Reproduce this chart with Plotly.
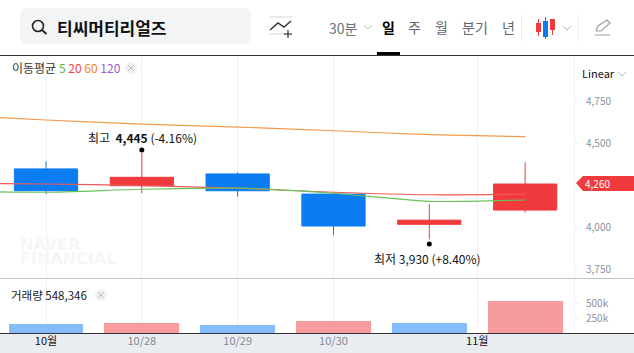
import plotly.graph_objects as go

W, H = 634, 353
FONT = "Noto Sans CJK KR, Noto Sans, sans-serif"

# ---- data ----
index = [0, 1, 2, 3, 4, 5]
opens = [4350, 4250, 4320, 4200, 4020, 4105]
highs = [4395, 4445, 4330, 4210, 4140, 4390]
lows = [4200, 4205, 4185, 3955, 3930, 4090]
closes = [4220, 4300, 4220, 4010, 4045, 4260]
volumes = [155000, 172000, 138000, 207000, 172000, 548346]
volume_up = [False, True, False, True, False, True]
ma_index = [-1, 0, 1, 2, 3, 4, 5]
ma5 = [4218, 4211, 4229, 4235, 4205, 4157, 4165]
ma20 = [4266, 4260, 4251, 4235, 4211, 4196, 4199]
ma60 = [4671, 4641, 4617, 4599, 4577, 4554, 4542]
extreme_x = [1, 4]
extreme_y = [4462, 3903]
price_ticks = [3750, 4000, 4500, 4750]
price_labels = ["3,750", "4,000", "4,500", "4,750"]
volume_ticks = [250000, 500000]
volume_labels = ["250k", "500k"]
date_ticks = [0, 1, 2, 3, 4.5]
date_labels = ["10월", "10/28", "10/29", "10/30", "11월"]
date_major = [True, False, False, False, True]
periods = ["일", "주", "월", "분기", "년"]

RED, BLUE = "#f03a3d", "#0b7cf2"
UP_BAR, DOWN_BAR = "#f69c9e", "#84bcfa"


def X(p):
    return p / W


def Y(p):
    return 1 - p / H


def path(d):
    """d: list of tokens, with pixel coordinates as (x, y) tuples."""
    out = []
    for t in d:
        out.append(f"{X(t[0]):.5f} {Y(t[1]):.5f}" if isinstance(t, tuple) else t)
    return " ".join(out)


shapes, notes = [], []


def rect(x0, y0, x1, y1, color, layer="above"):
    shapes.append(dict(type="rect", xref="paper", yref="paper", x0=X(x0), x1=X(x1),
                       y0=Y(y1), y1=Y(y0), fillcolor=color, line_width=0, layer=layer))


def line(points, color, width=1):
    d = []
    for i, p in enumerate(points):
        d += ["M" if i == 0 else "L", p]
    shapes.append(dict(type="path", xref="paper", yref="paper", path=path(d),
                       line=dict(color=color, width=width), layer="above"))


def circle(cx, cy, r, fill, edge=None, width=0):
    shapes.append(dict(type="circle", xref="paper", yref="paper", x0=X(cx - r), x1=X(cx + r),
                       y0=Y(cy + r), y1=Y(cy - r), fillcolor=fill,
                       line=dict(color=edge or fill, width=width), layer="above"))


def text(x, y, s, size=12, color="#333", anchor="left", family=FONT):
    notes.append(dict(xref="paper", yref="paper", x=X(x), y=Y(y), text=s, showarrow=False,
                      xanchor=anchor, yanchor="middle", align=anchor, borderpad=0,
                      font=dict(family=family, size=size, color=color)))


def chevron(x, y):
    line([(x - 4, y - 2), (x, y + 2), (x + 4, y - 2)], "#b4b8be", 1)


def close_button(x, y):
    circle(x, y, 6, "#f0f1f2")
    line([(x - 3, y - 3), (x + 3, y + 3)], "#b9bcc1", 1)
    line([(x - 3, y + 3), (x + 3, y - 3)], "#b9bcc1", 1)


# ---- panels and rules ----
rect(0, 333, W, H, "#e9ecf1", "below")
rect(0, 55, W, 56, "#333333")
rect(0, 278, W, 279, "#bcc4cc")
rect(0, 333, W, 334, "#333333")

# ---- header ----
shapes.append(dict(type="path", xref="paper", yref="paper", layer="below",
                   fillcolor="#f3f4f6", line_width=0,
                   path=path(["M", (28, 8), "L", (243, 8), "Q", (251, 8), (251, 16), "L", (251, 36),
                              "Q", (251, 44), (243, 44), "L", (28, 44), "Q", (20, 44), (20, 36),
                              "L", (20, 16), "Q", (20, 8), (28, 8), "Z"])))
circle(38, 26, 5.5, "rgba(0,0,0,0)", "#222", 1.6)
line([(42, 30), (46.5, 34)], "#222", 1.8)
text(56, 27, "<b>티씨머티리얼즈</b>", 17, "#111")
line([(269, 17), (292, 17)], "#d5d7da", 1)
line([(269, 34), (285, 34)], "#d5d7da", 1)
line([(270, 30), (278, 23), (284, 27), (291, 21)], "#333", 1.4)
line([(284, 34), (292, 34)], "#333", 1.2)
line([(288, 30), (288, 38)], "#333", 1.2)
text(328, 28, "30분", 14, "#6d737c")
chevron(368, 27)
period_x = [388.5, 414.5, 441, 474.5, 508]
for s, px in zip(periods, period_x):
    is_day = s == "일"
    text(px, 27, f"<b>{s}</b>" if is_day else s, 14, "#000" if is_day else "#5f666f", "center")
rect(377, 52, 400, 55, "#000000")
rect(521, 14, 522, 42, "#eceef0")
rect(578, 14, 579, 42, "#eceef0")
for x0, top, bot, wt, wb, c in [(536, 23, 32, 19, 36, RED), (543, 21, 37, 17, 39, BLUE), (550, 19, 30, 19, 35, RED)]:
    line([(x0 + 2.5, wt), (x0 + 2.5, wb)], c, 1)
    rect(x0, top, x0 + 5, bot, c)
chevron(567, 28)
line([(596, 31), (598, 26), (607, 20), (610, 23), (601, 31), (596, 31)], "#9aa0a8", 1.2)
line([(595, 35), (610, 35)], "#9aa0a8", 1)

# ---- legends and notes ----
text(10.5, 68,
     '<span style="color:#333">이동평균</span> <span style="color:#55b93c">5</span> '
     '<span style="color:#f04548">20</span> <span style="color:#f5871f">60</span> '
     '<span style="color:#a05cd0">120</span>', 12)
close_button(131, 68)
text(581, 73, "Linear", 11, "#111")
chevron(622, 74)
text(10, 295, "거래량 548,346", 11.5, "#222")
close_button(101, 295)
text(87, 137, "최고 &nbsp;<b>4,445</b> (-4.16%)", 12, "#111")
text(373, 258, "최저 3,930 (+8.40%)", 12, "#111")
text(19, 244, "<b>NAVER</b>", 16, "#f5f6f8", family="DejaVu Sans")
text(19, 258, "<b>FINANCIAL</b>", 16, "#f5f6f8", family="DejaVu Sans")

# ---- current price flag ----
shapes.append(dict(type="path", xref="paper", yref="paper", layer="above", fillcolor=RED, line_width=0,
                   path=path(["M", (576, 183), "L", (583, 176), "L", (634, 176), "L", (634, 191),
                              "L", (583, 191), "Z"])))
text(584, 183, "4,260", 10, "#fff")

# ---- traces ----
fig = go.Figure()
fig.add_trace(go.Candlestick(x=index, open=opens, high=highs, low=lows, close=closes,
                             increasing=dict(line=dict(color=RED, width=1), fillcolor=RED),
                             decreasing=dict(line=dict(color=BLUE, width=1), fillcolor=BLUE),
                             whiskerwidth=0, showlegend=False, xaxis="x", yaxis="y"))
for values, color in [(ma60, "#f59a4a"), (ma20, "#ee5a5c"), (ma5, "#6cc25a")]:
    fig.add_trace(go.Scatter(x=ma_index, y=values, mode="lines", showlegend=False,
                             line=dict(color=color, width=1.2, shape="spline", smoothing=0.6),
                             xaxis="x", yaxis="y"))
fig.add_trace(go.Scatter(x=extreme_x, y=extreme_y, mode="markers", showlegend=False,
                         marker=dict(color="#000", size=5), xaxis="x", yaxis="y"))
fig.add_trace(go.Bar(x=index, y=volumes, width=0.78, showlegend=False,
                     marker=dict(color=[UP_BAR if u else DOWN_BAR for u in volume_up], line_width=0),
                     xaxis="x", yaxis="y2"))

tick_text = [f'<span style="color:#111">{t}</span>' if m else t for t, m in zip(date_labels, date_major)]
fig.update_layout(
    width=W, height=H, margin=dict(l=0, r=0, t=0, b=0, pad=0, autoexpand=False),
    paper_bgcolor="#ffffff", plot_bgcolor="#ffffff", boxgap=0.34, boxgroupgap=0, bargap=0,
    font=dict(family=FONT), shapes=shapes, annotations=notes, hovermode=False,
    xaxis=dict(domain=[0, 574 / W], range=[-0.48, 5.51], anchor="y2", tickmode="array",
               tickvals=date_ticks, ticktext=tick_text, ticks="", showgrid=True,
               gridcolor="#f0f1f4", gridwidth=1, zeroline=False, showline=False,
               rangeslider=dict(visible=False),
               tickfont=dict(size=11, color="#858b96", family=FONT)),
    yaxis=dict(domain=[1 - 278 / H, 1 - 55 / H], range=[3700.6, 5028], side="right", anchor="x",
               tickmode="array", tickvals=price_ticks, ticktext=price_labels, ticks="outside",
               ticklen=3, tickcolor="#e8ebef", showgrid=False, zeroline=False, showline=True,
               linecolor="#eef0f3", ticklabelstandoff=6,
               tickfont=dict(size=10, color="#8a919c", family=FONT)),
    yaxis2=dict(domain=[1 - 333 / H, 1 - 278 / H], range=[0, 948000], side="right", anchor="x",
                tickmode="array", tickvals=volume_ticks, ticktext=volume_labels, ticks="outside",
                ticklen=3, tickcolor="#e8ebef", showgrid=False, zeroline=False, showline=True,
                linecolor="#eef0f3", ticklabelstandoff=6,
                tickfont=dict(size=10, color="#8a919c", family=FONT)),
)
fig.write_html("out.html", config=dict(displayModeBar=False),
               post_script="document.body.style.margin='0';document.body.style.overflow='hidden';")
